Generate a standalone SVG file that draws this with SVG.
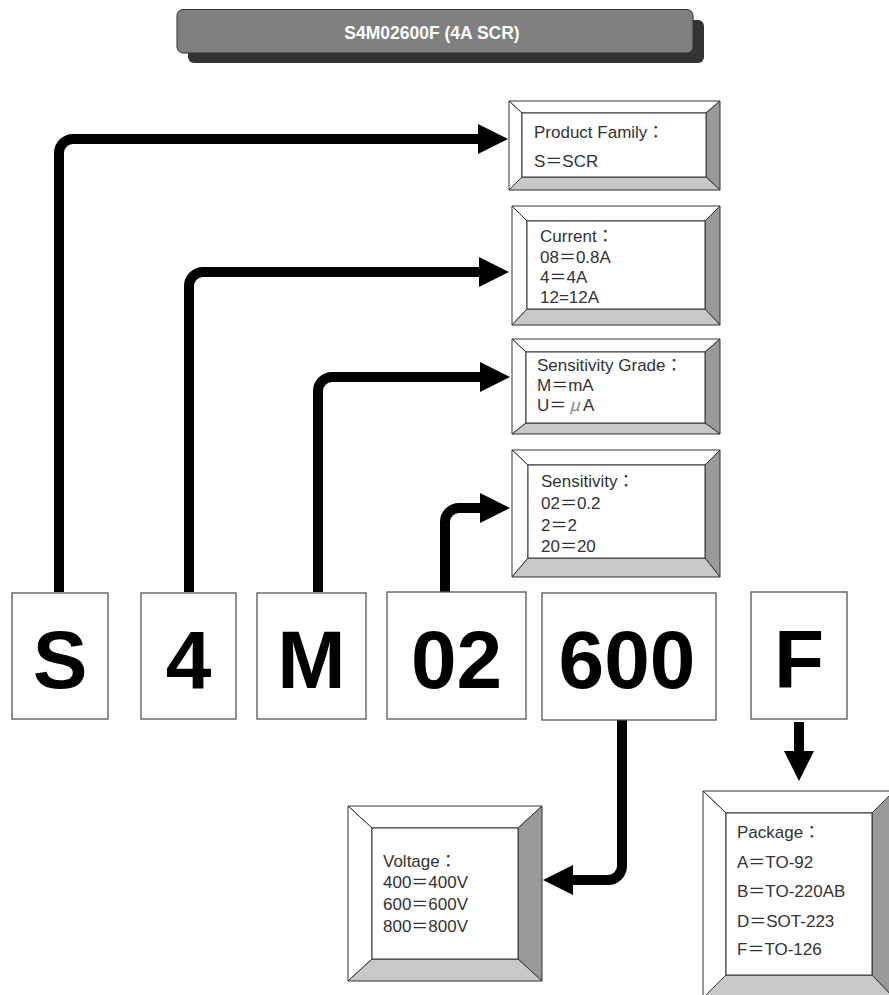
<svg xmlns="http://www.w3.org/2000/svg" width="889" height="995" viewBox="0 0 889 995">
<style>
.t{font-family:"Liberation Sans","Noto Sans CJK TC",sans-serif;font-size:17px;fill:#333}
.big{font-family:"Liberation Sans",Arial,sans-serif;font-weight:bold;font-size:82px;fill:#000;text-anchor:middle}
.lb{fill:#fff;stroke:#555;stroke-width:1.3}
.bv{stroke:#333;stroke-width:1;stroke-linejoin:miter}
.w{fill:#fff}.g1{fill:#999}.g2{fill:#c8c8c8}
.cn{fill:none;stroke:#000;stroke-width:10}
</style>
<defs>
<marker id="ah" markerUnits="userSpaceOnUse" markerWidth="30" markerHeight="30" viewBox="0 0 30 30" refX="0" refY="15" orient="auto">
<path d="M0,0 L30,15 L0,30 z" fill="#000"/>
</marker>
</defs>
<rect width="889" height="995" fill="#fff"/>

<g id="title">
<rect x="188" y="20" width="516" height="43" rx="6" fill="#333"/>
<rect x="177" y="9.5" width="516" height="43.5" rx="6" fill="#808080" stroke="#333" stroke-width="1"/>
<text x="432" y="39" text-anchor="middle" font-family="'Liberation Sans',Arial,sans-serif" font-weight="bold" font-size="17.5" fill="#fff">S4M02600F (4A SCR)</text>
</g>

<g id="connectors">
<path class="cn" d="M59,592 V153 A14,14 0 0 1 73,139 H478" marker-end="url(#ah)"/>
<path class="cn" d="M189,592 V286 A14,14 0 0 1 203,272 H479" marker-end="url(#ah)"/>
<path class="cn" d="M318,592 V391 A14,14 0 0 1 332,377 H480" marker-end="url(#ah)"/>
<path class="cn" d="M445,592 V522 A14,14 0 0 1 459,508 H480" marker-end="url(#ah)"/>
<path class="cn" d="M622,720 V866 A14,14 0 0 1 608,880 H573" marker-end="url(#ah)"/>
<path class="cn" d="M799,722 V751" marker-end="url(#ah)"/>
</g>

<g id="box-family">
<g class="bv">
<polygon class="w" points="509,101 720,101 706,113 522,113"/>
<polygon class="w" points="509,101 522,113 522,177 509,190"/>
<polygon class="g1" points="720,101 720,190 706,177 706,113"/>
<polygon class="g2" points="509,190 720,190 706,177 522,177"/>
<rect x="522" y="113" width="184" height="64" fill="#fff"/>
</g>
<text class="t" x="534" y="138">Product Family：</text>
<text class="t" x="534" y="167">S＝SCR</text>
</g>

<g id="box-current">
<g class="bv">
<polygon class="w" points="512,206 720,206 705,221 527,221"/>
<polygon class="w" points="512,206 527,221 527,309 512,325"/>
<polygon class="g1" points="720,206 720,325 705,309 705,221"/>
<polygon class="g2" points="512,325 720,325 705,309 527,309"/>
<rect x="527" y="221" width="178" height="88" fill="#fff"/>
</g>
<text class="t" x="540" y="242">Current：</text>
<text class="t" x="540" y="263">08＝0.8A</text>
<text class="t" x="540" y="283">4＝4A</text>
<text class="t" x="540" y="303">12=12A</text>
</g>

<g id="box-grade">
<g class="bv">
<polygon class="w" points="512,339 720,339 705,352 526,352"/>
<polygon class="w" points="512,339 526,352 526,423 512,434"/>
<polygon class="g1" points="720,339 720,434 705,423 705,352"/>
<polygon class="g2" points="512,434 720,434 705,423 526,423"/>
<rect x="526" y="352" width="179" height="71" fill="#fff"/>
</g>
<text class="t" x="537" y="371">Sensitivity Grade：</text>
<text class="t" x="537" y="391">M＝mA</text>
<text class="t" x="537" y="411">U＝<tspan font-family="'Noto Sans CJK TC',sans-serif" font-style="italic" fill="#888" dx="3">μ</tspan><tspan dx="3">A</tspan></text>
</g>

<g id="box-sensitivity">
<g class="bv">
<polygon class="w" points="512,450 720,450 705,465 528,465"/>
<polygon class="w" points="512,450 528,465 528,558 512,577"/>
<polygon class="g1" points="720,450 720,577 705,558 705,465"/>
<polygon class="g2" points="512,577 720,577 705,558 528,558"/>
<rect x="528" y="465" width="177" height="93" fill="#fff"/>
</g>
<text class="t" x="541" y="487">Sensitivity：</text>
<text class="t" x="541" y="509">02＝0.2</text>
<text class="t" x="541" y="531">2＝2</text>
<text class="t" x="541" y="552">20＝20</text>
</g>

<g id="code-S"><rect class="lb" x="12" y="593" width="96" height="126"/><text class="big" x="60" y="688">S</text></g>
<g id="code-4"><rect class="lb" x="141" y="593" width="95" height="126"/><text class="big" x="188.5" y="688">4</text></g>
<g id="code-M"><rect class="lb" x="257" y="593" width="109" height="126"/><text class="big" x="311.5" y="688">M</text></g>
<g id="code-02"><rect class="lb" x="387" y="592" width="139" height="127"/><text class="big" x="456.5" y="688">02</text></g>
<g id="code-600"><rect class="lb" x="542" y="593" width="174" height="127"/><text class="big" x="627" y="688">600</text></g>
<g id="code-F"><rect class="lb" x="751" y="592" width="96" height="127"/><text class="big" x="799" y="688">F</text></g>

<g id="box-voltage">
<g class="bv">
<polygon class="w" points="348,806 542,806 518,828 372,828"/>
<polygon class="w" points="348,806 372,828 372,959 348,981"/>
<polygon class="g1" points="542,806 542,981 518,959 518,828"/>
<polygon class="g2" points="348,981 542,981 518,959 372,959"/>
<rect x="372" y="828" width="146" height="131" fill="#fff"/>
</g>
<text class="t" x="383" y="867">Voltage：</text>
<text class="t" x="383" y="888">400＝400V</text>
<text class="t" x="383" y="910">600＝600V</text>
<text class="t" x="383" y="932">800＝800V</text>
</g>

<g id="box-package">
<g class="bv">
<polygon class="w" points="703,791 894,791 872,813 726,813"/>
<polygon class="w" points="703,791 726,813 726,975 703,998"/>
<polygon class="g1" points="894,791 894,998 872,975 872,813"/>
<polygon class="g2" points="703,998 894,998 872,975 726,975"/>
<rect x="726" y="813" width="146" height="162" fill="#fff"/>
</g>
<text class="t" x="737" y="838">Package：</text>
<text class="t" x="737" y="868">A＝TO-92</text>
<text class="t" x="737" y="897">B＝TO-220AB</text>
<text class="t" x="737" y="927">D＝SOT-223</text>
<text class="t" x="737" y="955">F＝TO-126</text>
</g>
</svg>
